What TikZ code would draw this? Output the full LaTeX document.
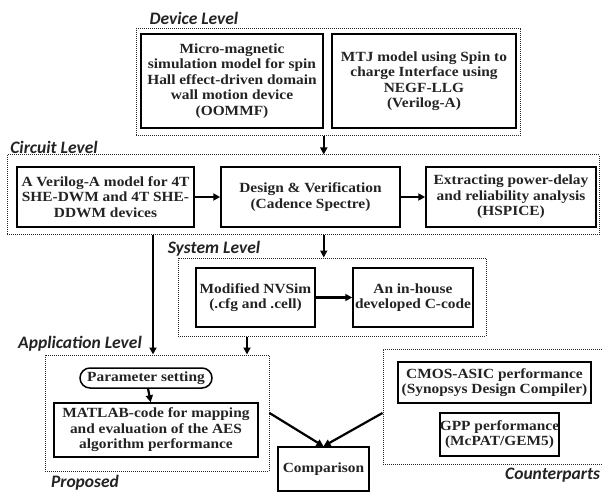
\documentclass[tikz,border=0pt]{standalone}
\usepackage{fontspec}
\setmainfont{Liberation Serif}[FakeStretch=1.1]
\newfontfamily\lblfont{Carlito}
\usetikzlibrary{arrows.meta}
\definecolor{ink}{RGB}{35,35,35}
\newcommand{\BX}{\fontsize{14}{15.5}\selectfont\bfseries}
\newcommand{\LV}{\lblfont\fontsize{17.5}{20}\selectfont\bfseries\itshape}

\begin{document}
\begin{tikzpicture}[x=1pt,y=-1pt]
\tikzstyle{caja}=[draw=black,line width=1.5pt,text=ink,font=\BX,align=center,inner sep=0pt]
\tikzstyle{nivel}=[draw=black!85,dash pattern=on 1pt off 1pt,line width=1pt,inner sep=0pt]
\tikzstyle{texto}=[draw=none,fill=none,text=ink,font=\LV,inner sep=0pt]
\tikzstyle{flecha}=[line width=2.2pt,-{Triangle[length=7pt,width=7pt]}]

\clip (0,0) rectangle (603,492);

% level frames
\node[nivel,minimum width=384pt,minimum height=107pt] (devL) at (328,82.5) {};
\node[nivel,minimum width=592pt,minimum height=80pt]  (cirL) at (303,195) {};
\node[nivel,minimum width=308pt,minimum height=78pt]  (sysL) at (332,297) {};
\node[nivel,minimum width=224pt,minimum height=116pt] (appL) at (157,413) {};
\node[nivel,minimum width=229pt,minimum height=115pt] (cntL) at (497.5,406.5) {};

% device level
\node[caja,minimum width=182pt,minimum height=94pt] (dev1) at (232,81)
  {Micro-magnetic\\simulation  model for spin\\Hall effect-driven domain\\wall motion device\\(OOMMF)};
\node[caja,minimum width=184pt,minimum height=94pt] (dev2) at (424,81)
  {MTJ model using Spin to\\charge Interface using\\NEGF-LLG\\(Verilog-A)};

% circuit level
\node[caja,minimum width=177pt,minimum height=60pt] (cirA) at (105.5,197)
  {A Verilog-A model for 4T\\SHE-DWM and 4T SHE-\\DDWM devices};
\node[caja,minimum width=179pt,minimum height=60pt] (cirB) at (310.5,197)
  {Design \& Verification\\(Cadence Spectre)};
\node[caja,minimum width=170pt,minimum height=60pt] (cirC) at (511,197)
  {Extracting power-delay\\and reliability analysis\\(HSPICE)};

% system level
\node[caja,minimum width=119pt,minimum height=59pt] (sysA) at (255.5,297.5)
  {Modified NVSim\\(.cfg and .cell)};
\node[caja,minimum width=120pt,minimum height=59pt] (sysB) at (413,297.5)
  {An in-house\\developed C-code};

% application level
\node[caja,rounded corners=10pt,minimum width=132pt,minimum height=20pt] (param) at (146,378)
  {Parameter setting};
\node[caja,minimum width=204pt,minimum height=54pt] (matlab) at (156,430)
  {MATLAB-code for  mapping\\and evaluation of the AES\\algorithm performance};
\node[caja,minimum width=91pt,minimum height=44pt] (comp) at (323.5,469)
  {Comparison};

% counterparts
\node[caja,minimum width=193pt,minimum height=41pt] (cmos) at (494.5,382.5)
  {CMOS-ASIC performance\\(Synopsys  Design Compiler)};
\node[caja,minimum width=119pt,minimum height=43pt] (gpp) at (499.5,434.5)
  {GPP performance\\(McPAT/GEM5)};

% labels
\node[texto] (lvDev) at (194,18)  {Device Level};
\node[texto] (lvCir) at (54,147)  {Circuit Level};
\node[texto] (lvSys) at (214,249) {System Level};
\node[texto] (lvApp) at (80,344)  {Application Level};
\node[texto] (lvPro) at (85,483)  {Proposed};
\node[texto,anchor=west] (lvCnt) at (505,475) {Counterparts};

% arrows
\coordinate (bajadaA) at (153,0);
\coordinate (bajadaS) at (247,0);
\draw[flecha] (devL.south -| dev1.east) -- (cirL.north -| dev1.east);
\draw[flecha] (cirA) -- (cirB);
\draw[flecha] (cirB) -- (cirC);
\draw[flecha] (cirL.south -| dev1.east) -- (sysL.north -| dev1.east);
\draw[flecha] (sysA) -- (sysB);
\draw[flecha] (cirL.south -| bajadaA) -- (appL.north -| bajadaA);
\draw[flecha] (sysL.south -| bajadaS) -- (appL.north -| bajadaS);
\draw[flecha] (param) -- (matlab);
\draw[flecha] (appL.east) -- (comp.north);
\draw[flecha] (cntL.west |- appL.east) -- (comp.north);
\end{tikzpicture}
\end{document}
